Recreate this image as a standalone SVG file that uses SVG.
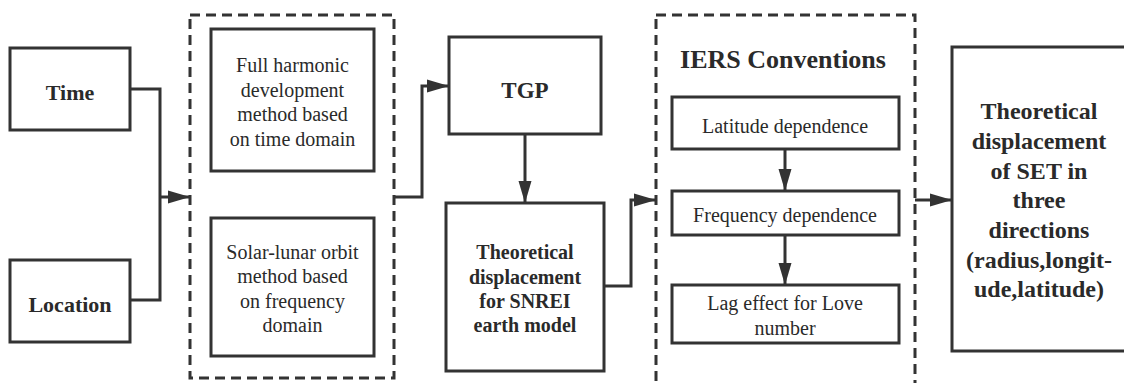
<svg xmlns="http://www.w3.org/2000/svg" width="1124" height="383" viewBox="0 0 1124 383">
<style>
.box{fill:#fff;stroke:#333;stroke-width:3}
.dash{fill:none;stroke:#333;stroke-width:3;stroke-dasharray:10 6}
.ln{fill:none;stroke:#333;stroke-width:3}
text{font-family:'Liberation Serif','DejaVu Serif',serif;fill:#2a2a2a;text-anchor:middle}
.t{font-size:20px}
.b{font-weight:bold}
</style>
<defs>
<marker id="arr" markerUnits="userSpaceOnUse" markerWidth="22" markerHeight="14" refX="22" refY="7" orient="auto">
<path d="M0,0.5 L22,7 L0,13.5 z" fill="#333"/>
</marker>
</defs>
<rect width="1124" height="383" fill="#fff"/>
<g id="time"><rect class="box" x="10" y="48" width="120" height="82"/><text class="b" x="70" y="100" font-size="22">Time</text></g>
<g id="location"><rect class="box" x="10" y="260" width="120" height="82"/><text class="b" x="70" y="312" font-size="22">Location</text></g>
<g id="methods"><rect class="dash" x="190" y="15" width="204" height="363"/></g>
<g id="fullharmonic"><rect class="box" x="211" y="29" width="163" height="142"/>
<text class="t" x="292.5" y="72">Full harmonic</text><text class="t" x="292.5" y="96.5">development</text><text class="t" x="292.5" y="121">method based</text><text class="t" x="292.5" y="145.5">on time domain</text></g>
<g id="solarlunar"><rect class="box" x="211" y="218" width="163" height="138"/>
<text class="t" x="292.5" y="258.5">Solar-lunar orbit</text><text class="t" x="292.5" y="283">method based</text><text class="t" x="292.5" y="307.5">on frequency</text><text class="t" x="292.5" y="332">domain</text></g>
<g id="tgp"><rect class="box" x="449" y="37" width="152" height="97"/><text class="b" x="525" y="98" font-size="23">TGP</text></g>
<g id="snrei"><rect class="box" x="446" y="203" width="158" height="168"/>
<text class="b" x="525" y="259" font-size="20">Theoretical</text><text class="b" x="525" y="284" font-size="20">displacement</text><text class="b" x="525" y="308" font-size="20">for SNREI</text><text class="b" x="525" y="332" font-size="20">earth model</text></g>
<g id="iers"><rect class="dash" x="656" y="15" width="259" height="380"/><text class="b" x="783" y="68" font-size="26">IERS Conventions</text></g>
<g id="latitude"><rect class="box" x="672" y="97" width="227" height="52"/><text class="t" x="785" y="133">Latitude dependence</text></g>
<g id="frequency"><rect class="box" x="672" y="191" width="227" height="44"/><text class="t" x="785" y="222">Frequency dependence</text></g>
<g id="lag"><rect class="box" x="672" y="285" width="227" height="58"/><text class="t" x="785" y="310">Lag effect for Love</text><text class="t" x="785" y="335">number</text></g>
<g id="result"><rect class="box" x="952" y="47" width="180" height="304"/>
<text class="b" x="1039" y="119" font-size="24">Theoretical</text>
<text class="b" x="1039" y="149" font-size="24">displacement</text>
<text class="b" x="1039" y="178.5" font-size="24">of SET in</text>
<text class="b" x="1039" y="208" font-size="24">three</text>
<text class="b" x="1039" y="238" font-size="24">directions</text>
<text class="b" x="1039" y="268" font-size="24">(radius,longit-</text>
<text class="b" x="1039" y="297" font-size="24">ude,latitude)</text></g>
<g id="connectors">
<polyline class="ln" points="130,89 160,89 160,300 130,300"/>
<line class="ln" x1="160" y1="197" x2="190" y2="197" marker-end="url(#arr)"/>
<polyline class="ln" points="394,197 422,197 422,86 449,86" marker-end="url(#arr)"/>
<line class="ln" x1="525" y1="134" x2="525" y2="203" marker-end="url(#arr)"/>
<polyline class="ln" points="604,286 631,286 631,200 656,200" marker-end="url(#arr)"/>
<line class="ln" x1="785" y1="149" x2="785" y2="191" marker-end="url(#arr)"/>
<line class="ln" x1="785" y1="235" x2="785" y2="285" marker-end="url(#arr)"/>
<line class="ln" x1="915" y1="200" x2="952" y2="200" marker-end="url(#arr)"/>
</g>
</svg>
